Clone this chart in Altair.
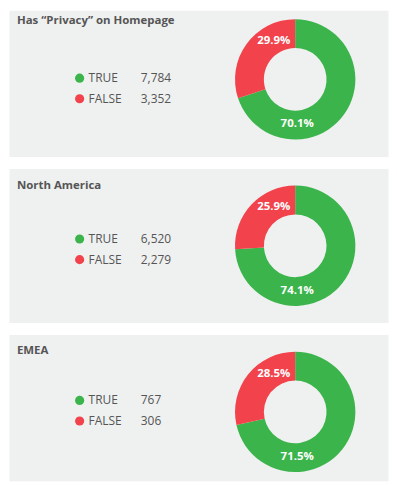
import altair as alt
import pandas as pd

# ---- data ----
titles = ["Has “Privacy” on Homepage", "North America", "EMEA"]
categories = ["TRUE", "FALSE"]
counts_true = [7784, 6520, 767]
counts_false = [3352, 2279, 306]
pct_true = ["70.1%", "74.1%", "71.5%"]
pct_false = ["29.9%", "25.9%", "28.5%"]

# ---- styling / layout ----
GREEN = "#3bb54b"
RED = "#f2424b"
BG = "#eff0f0"
TXT = "#555555"
FONT = "Open Sans"
W = 381
heights = [147, 155, 147]
donut_cy = [69.5, 77.8, 77.8]
legend_y = [(68.3, 89.0), (71.0, 91.7), (66.2, 86.9)]
title_y = [13.7, 20.7, 20.0]
CX = 287.7


def panel(i):
    df = pd.DataFrame({
        "category": categories,
        "count": [counts_true[i], counts_false[i]],
        "pct": [pct_true[i], pct_false[i]],
        "order": [0, 1],
    })
    base = alt.Chart(df)
    color = alt.Color("category:N", scale=alt.Scale(domain=categories, range=[GREEN, RED]), legend=None)
    cy = donut_cy[i]

    donut = base.mark_arc(innerRadius=31.5, outerRadius=60.5).encode(
        theta=alt.Theta("count:Q", stack=True),
        color=color,
        order=alt.Order("order:Q", sort="ascending"),
        x=alt.value(CX),
        y=alt.value(cy),
    )

    lab_true = base.transform_filter(alt.datum.category == "TRUE").mark_text(
        font=FONT, fontSize=11.5, fontWeight="bold", color="white", align="center", baseline="middle"
    ).encode(text="pct:N", x=alt.value(CX + 2), y=alt.value(cy + 45))
    lab_false = base.transform_filter(alt.datum.category == "FALSE").mark_text(
        font=FONT, fontSize=11.5, fontWeight="bold", color="white", align="center", baseline="middle"
    ).encode(text="pct:N", x=alt.value(CX - 21.5), y=alt.value(cy - 38.5))

    ly = alt.Y("category:N", scale=alt.Scale(type="point", domain=categories,
                                             range=list(legend_y[i]), padding=0), axis=None)
    dots = base.mark_circle(size=85, opacity=1).encode(y=ly, color=color, x=alt.value(71))
    names = base.mark_text(font=FONT, fontSize=12, color=TXT, align="left", baseline="middle").encode(
        y=ly, text="category:N", x=alt.value(80))
    nums = base.mark_text(font=FONT, fontSize=12, color=TXT, align="left", baseline="middle").encode(
        y=ly, text=alt.Text("count:Q", format=","), x=alt.value(132.5))

    title = alt.Chart(pd.DataFrame({"t": [titles[i]]})).mark_text(
        font=FONT, fontSize=11.5, fontWeight="bold", color=TXT, align="left", baseline="alphabetic"
    ).encode(text="t:N", x=alt.value(8), y=alt.value(title_y[i]))

    return alt.layer(donut, lab_true, lab_false, dots, names, nums, title).properties(
        width=W, height=heights[i]
    )


chart = alt.vconcat(*[panel(i) for i in range(3)], spacing=10).properties(
    padding=0
).configure_view(fill=BG, stroke="transparent")

chart.save("out.html", embed_options={"renderer": "svg", "actions": False})
